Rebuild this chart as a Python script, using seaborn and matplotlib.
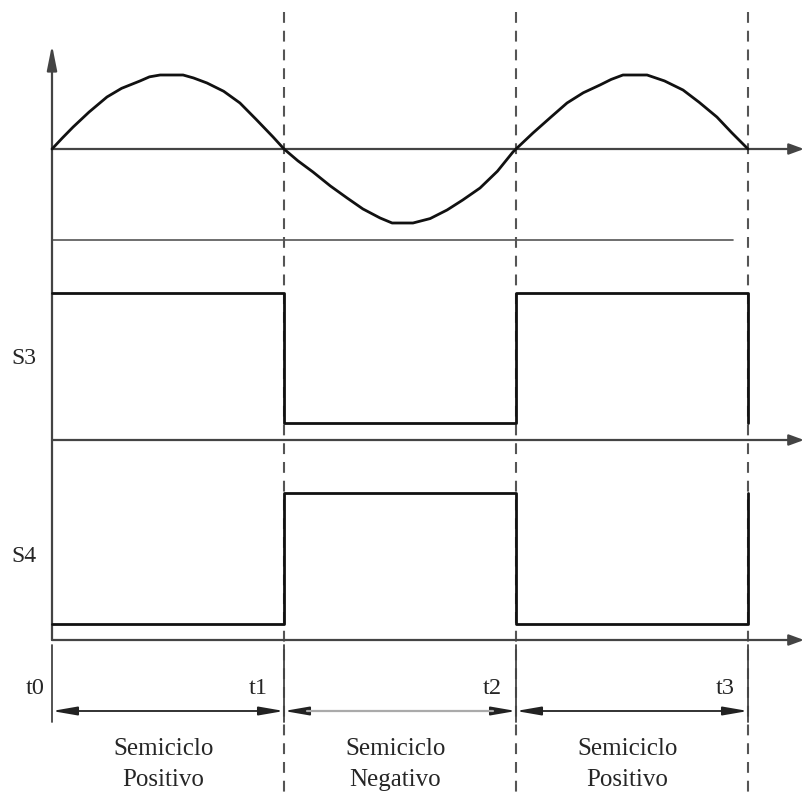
import matplotlib
matplotlib.use("Agg")
from matplotlib import pyplot as plt
import numpy as np
import pandas as pd
import seaborn as sns

# time in half-cycle units (t0..t3)
boundaries = [0, 1, 2, 3]
time_labels = ["t0", "t1", "t2", "t3"]
half_cycle_names = [("Semiciclo", "Positivo"), ("Semiciclo", "Negativo"), ("Semiciclo", "Positivo")]

# mains voltage, normalised to peak
sine_t = [0.0, 0.045, 0.091, 0.16, 0.237, 0.30, 0.379, 0.42, 0.466, 0.565,
          0.61, 0.668, 0.74, 0.810, 0.88, 0.953, 1.0,
          1.06, 1.125, 1.20, 1.272, 1.34, 1.414, 1.466, 1.556, 1.63, 1.703,
          1.77, 1.845, 1.92, 1.987, 2.0,
          2.073, 2.15, 2.220, 2.29, 2.362, 2.41, 2.461, 2.565, 2.64, 2.720,
          2.79, 2.866, 2.93, 3.0]
sine_v = [0.0, 0.15, 0.297, 0.50, 0.703, 0.82, 0.919, 0.975, 1.0, 1.0,
          0.96, 0.892, 0.78, 0.622, 0.40, 0.162, 0.0,
          -0.16, -0.311, -0.50, -0.662, -0.81, -0.932, -1.0, -1.0, -0.94, -0.824,
          -0.69, -0.527, -0.30, -0.04, 0.0,
          0.216, 0.43, 0.622, 0.76, 0.865, 0.94, 1.0, 1.0, 0.92, 0.797,
          0.63, 0.432, 0.22, 0.0]

# switch states (steps-post: value holds until next boundary)
s3_state = [1, 0, 1, 0]
s4_state = [0, 1, 0, 1]

W, H = 804, 796
X0_PX, HALF_PX = 52, 232          # t0 pixel, pixels per half cycle
XLIM = (-X0_PX / HALF_PX, (W - X0_PX) / HALF_PX)

sns.set_style("white")
plt.rcParams["font.family"] = ["Liberation Serif", "DejaVu Serif"]

fig = plt.figure(figsize=(W / 100, H / 100), dpi=100)


def full_axes(zero_px=None, one_px=None):
    """Axes covering the whole figure; 0 and 1 land on the given pixel rows."""
    ax = fig.add_axes([0, 0, 1, 1])
    ax.set_xlim(*XLIM)
    if zero_px is None:
        ax.set_ylim(H, 0)
    else:
        scale = zero_px - one_px
        ax.set_ylim((zero_px - H) / scale, zero_px / scale)
    ax.set_axis_off()
    ax.patch.set_alpha(0)
    return ax


# layout axes: x in half cycles, y in pixels from top
ax0 = full_axes()
axis_color = "#444444"
wave_color = "#111111"

# dashed guides at t1..t3
for t in boundaries[1:]:
    ax0.plot([t, t], [12, H], color="#555555", lw=1.5, ls=(0, (5.2, 3.8)))

# horizontal time axes with arrows
for y in [149, 440, 640]:
    ax0.annotate("", xy=(XLIM[1], y), xytext=(0, y),
                 arrowprops=dict(arrowstyle="-|>,head_length=0.6,head_width=0.22",
                                 mutation_scale=15, lw=1.6, color=axis_color,
                                 shrinkA=0, shrinkB=0))
# vertical axis
ax0.annotate("", xy=(0, 45), xytext=(0, 640),
             arrowprops=dict(arrowstyle="-|>,head_length=1.0,head_width=0.2",
                             mutation_scale=15, lw=1.6, color=axis_color,
                             shrinkA=0, shrinkB=0))
# thin separator under the sine
ax0.plot([0, 2.935], [240, 240], color="#555555", lw=1.2)

# extension lines and dimension arrows
for t in boundaries:
    ax0.plot([t, t], [645, 722], color=axis_color, lw=1.3)
for i in range(3):
    ax0.annotate("", xy=(boundaries[i + 1], 711), xytext=(boundaries[i], 711),
                 arrowprops=dict(arrowstyle="<|-|>,head_length=0.75,head_width=0.13",
                                 mutation_scale=20, lw=1.3, color="#222222",
                                 shrinkA=0, shrinkB=0))
    if i == 1:
        # lighter shaft on the middle dimension line
        ax0.plot([boundaries[i] + 0.1, boundaries[i + 1] - 0.1], [711, 711],
                 color="#aaaaaa", lw=1.6, zorder=3)
    mid = (boundaries[i] + boundaries[i + 1]) / 2
    ax0.text(mid - 0.02, 749, half_cycle_names[i][0], ha="center", va="center", fontsize=18)
    ax0.text(mid - 0.02, 780, half_cycle_names[i][1], ha="center", va="center", fontsize=18)

offsets = [7, 16, 14, 13]
for t, lab, off in zip(boundaries, time_labels, offsets):
    ax0.text(t - off / HALF_PX, 689, lab, ha="right", va="center", fontsize=17.5)

ax0.text(-41 / HALF_PX, 359, "S3", ha="left", va="center", fontsize=17)
ax0.text(-41 / HALF_PX, 557, "S4", ha="left", va="center", fontsize=17)

# sine wave
ax_sin = full_axes(zero_px=149, one_px=75)
sns.lineplot(x=sine_t, y=sine_v, ax=ax_sin, sort=False, estimator=None,
             color=wave_color, lw=2.0, solid_joinstyle="round")

# switch signals
sw = pd.DataFrame({"t": boundaries, "S3": s3_state, "S4": s4_state})
ax_s3 = full_axes(zero_px=423, one_px=293)
sns.lineplot(data=sw, x="t", y="S3", ax=ax_s3, sort=False, estimator=None,
             drawstyle="steps-post", color=wave_color, lw=2.0)
ax_s4 = full_axes(zero_px=624, one_px=493)
sns.lineplot(data=sw, x="t", y="S4", ax=ax_s4, sort=False, estimator=None,
             drawstyle="steps-post", color=wave_color, lw=2.0)

for ax in [ax_sin, ax_s3, ax_s4]:
    ax.set_axis_off()

fig.savefig("out.png", dpi=100)
